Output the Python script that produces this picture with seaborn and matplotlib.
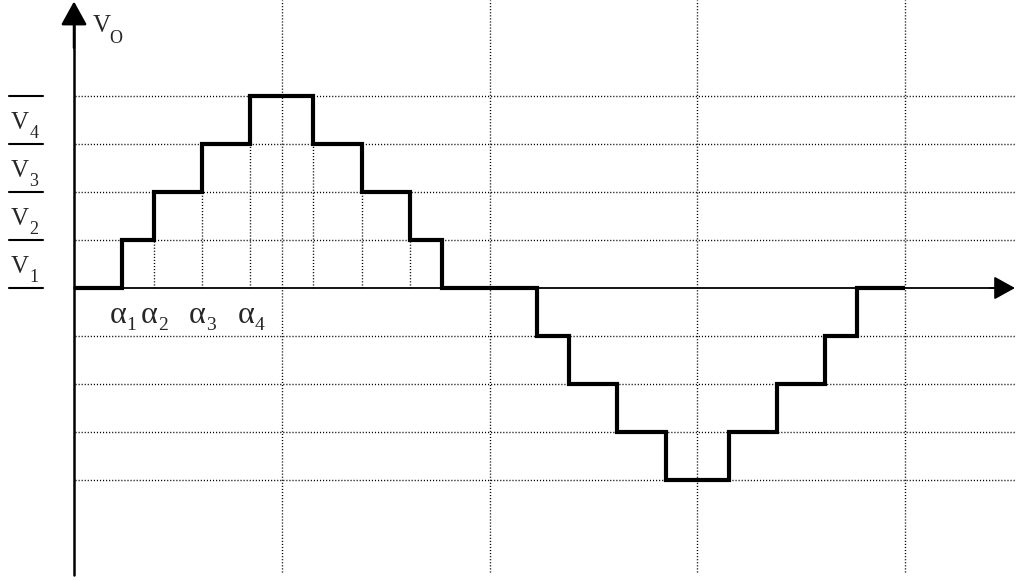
import numpy as np
import pandas as pd
import matplotlib
matplotlib.use("Agg")
import matplotlib.pyplot as plt
import seaborn as sns

# switching angles (degrees) and the step levels
alpha_deg = [20.7, 34.5, 55.3, 76.3]
levels = [1, 2, 3, 4]
v_subs = ["1", "2", "3", "4"]
alpha_subs = ["1", "2", "3", "4"]

# build the staircase: rising edges, falling edges, then mirrored negative half
rise = alpha_deg
fall = [180 - a for a in alpha_deg[::-1]]
x_pos = [0] + rise + fall
y_pos = [0] + levels + levels[::-1][1:] + [0]
x_neg = [180 + a for a in rise] + [360 - a for a in alpha_deg[::-1]]
y_neg = [-l for l in levels] + [-l for l in levels[::-1][1:]] + [0]
wave = pd.DataFrame({"angle": x_pos + x_neg + [360],
                     "vo": y_pos + y_neg + [0]})

sns.set_style("white")
plt.rcParams["font.family"] = ["Liberation Serif", "DejaVu Serif"]

fig = plt.figure(figsize=(10.16, 5.81), dpi=100)
ax = fig.add_axes([0, 0, 1, 1])
px = 180 / 415.5  # degrees per pixel
ax.set_xlim(-74 * px, (1016 - 74) * px)
ax.set_ylim(-(581 - 288) / 48, 288 / 48)
ax.axis("off")

dot = dict(color="black", lw=1.0, linestyle=(0, (0.8, 1.4)))

# horizontal dotted grid
for l in [-4, -3, -2, -1, 1, 2, 3, 4]:
    ax.plot([0.5, (1016 - 74) * px], [l, l], **dot)
# full-height vertical dotted grid
for g in [90, 180, 270, 360]:
    ax.plot([g, g], [-5.92, 6.0], **dot)
# short verticals under the inner steps of the positive half
for a, l in zip(alpha_deg[1:], levels[:-1]):
    ax.plot([a, a], [0, l], **dot)
    ax.plot([180 - a, 180 - a], [0, l], **dot)

# axes with arrows
ax.plot([0, 0], [-5.98, 5.6], color="black", lw=1.8)
ax.annotate("", xy=(0, 5.97), xytext=(0, 5.0),
            arrowprops=dict(arrowstyle="-|>,head_length=1.45,head_width=0.8",
                            mutation_scale=10, color="black", lw=1.8,
                            shrinkA=0, shrinkB=0))
ax.plot([0, (1000 - 74) * px], [0, 0], color="black", lw=1.3)
ax.annotate("", xy=((1015 - 74) * px, 0), xytext=((990 - 74) * px, 0),
            arrowprops=dict(arrowstyle="-|>,head_length=1.3,head_width=0.72",
                            mutation_scale=10, color="black", lw=1.3,
                            shrinkA=0, shrinkB=0))

# the staircase output voltage
sns.lineplot(data=wave, x="angle", y="vo", estimator=None, sort=False,
             drawstyle="steps-post", color="black", lw=3.0, ax=ax,
             solid_joinstyle="miter", solid_capstyle="butt")

pt = 0.72  # points per pixel at 100 dpi
main_fs, sub_fs = 18, 13


def label(x, y, main, sub, dx, dy, sdx, sdy, fs=main_fs, sfs=sub_fs):
    ax.annotate(main, xy=(x, y), xytext=(dx * pt, dy * pt),
                textcoords="offset points", fontsize=fs,
                ha="left", va="baseline")
    ax.annotate(sub, xy=(x, y), xytext=(sdx * pt, sdy * pt),
                textcoords="offset points", fontsize=sfs,
                ha="left", va="baseline")


# V_O next to the vertical axis
label(0, 6.0, "V", "O", 19, -32, 35.5, -43.3)

# V1..V4 between the bars at the left
bar_x = [(9 - 74) * px, (43 - 74) * px]
for l in [0] + levels:
    ax.plot(bar_x, [l, l], color="black", lw=1.5)
for l, s in zip(levels, v_subs):
    label(-74 * px, l, "V", s, 11, -33, 29.5, -42.4)

# alpha labels under the axis
for a, s in zip(alpha_deg, alpha_subs):
    label(a, 0, "α", s, -12.5, -35, 4.5, -42, fs=23, sfs=14)

fig.savefig("out.png", dpi=100, facecolor="white")
